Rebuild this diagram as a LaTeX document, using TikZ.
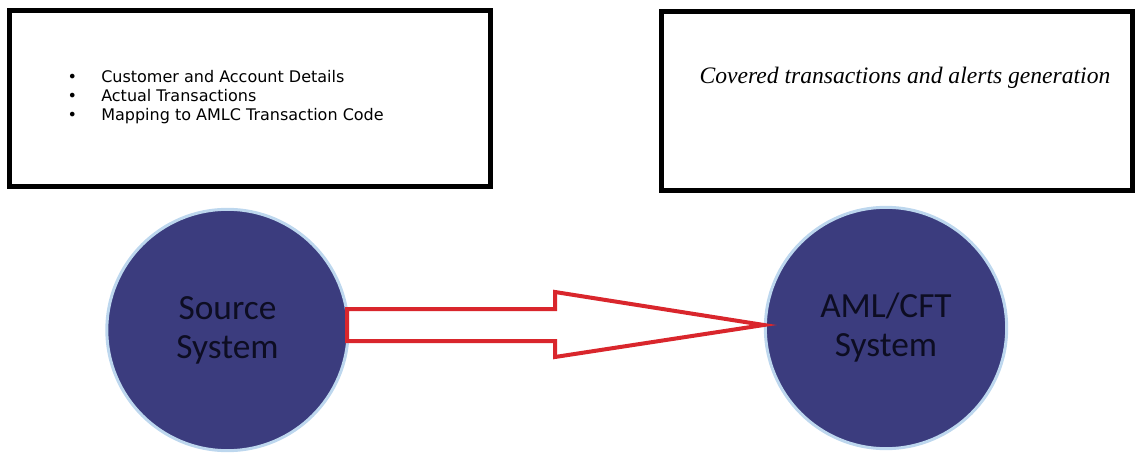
\documentclass[tikz,border=0pt]{standalone}
\usepackage{fontspec}
\setmainfont{DejaVu Sans}
\newfontfamily\circfont{Carlito}
\newfontfamily\cursfont{Liberation Serif}
\usetikzlibrary{calc}
\definecolor{navy}{HTML}{3B3C7E}
\definecolor{ringblue}{HTML}{BDD7EE}
\definecolor{arrowred}{HTML}{D9262C}
\definecolor{darktext}{HTML}{0D0D22}
\tikzset{
  infobox/.style={draw=black, line width=3.75pt, rectangle, inner sep=0pt},
  sysnode/.style={circle, fill=navy, draw=ringblue, line width=2.25pt, inner sep=0pt,
    minimum size=181pt, text=darktext, align=center,
    font=\circfont\fontsize{26.5}{29.25}\selectfont},
  bigarrow/.style={draw=arrowred, fill=white, line width=3pt, line join=miter}
}
\begin{document}
\begin{tikzpicture}[x=0.75pt,y=-0.75pt]
\useasboundingbox (0,0) rectangle (1137,459);
% boxes
\node[infobox, minimum width=361pt, minimum height=132pt] (lbox) at (250,98.5) {};
\node[infobox, minimum width=352.9pt, minimum height=134.25pt] (rbox) at (897.25,101) {};
\node[anchor=west, inner sep=0pt, font=\fontsize{12}{14.25}\selectfont] (ltext) at (68,97.5)
  {\begin{tabular}{@{}l@{\hspace{18.75pt}}l@{}}
   \makebox[6pt][c]{\textbullet} & Customer and Account Details\\
   \makebox[6pt][c]{\textbullet} & Actual Transactions\\
   \makebox[6pt][c]{\textbullet} & Mapping to AMLC Transaction Code
   \end{tabular}};
\node[inner sep=0pt, font=\cursfont\itshape\fontsize{17.7}{20}\selectfont] (rtext) at (905,78)
  {Covered transactions and alerts generation};
% circles
\node[sysnode] (src) at (227.5,330) {Source\\System};
\node[sysnode] (aml) at (886,328) {AML/CFT\\System};
% arrow
\coordinate (tip) at ($(aml.west)+(0,-3)$);
\coordinate (base) at ($(src.center)+(119.5,0)$);
\draw[bigarrow] (base |- 0,309) -- (555,309) -- (555,292) -- (tip)
  -- (555,357) -- (555,341) -- (base |- 0,341) -- cycle;
\end{tikzpicture}
\end{document}
